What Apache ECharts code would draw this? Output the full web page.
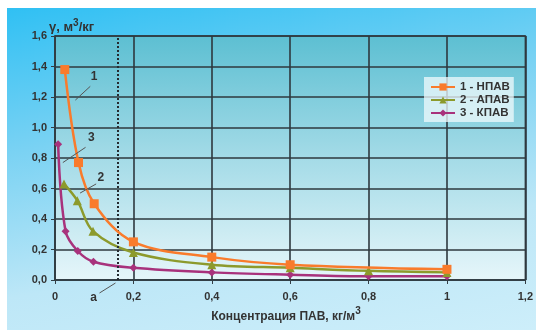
<!DOCTYPE html>
<html><head><meta charset="utf-8">
<script src="https://cdn.jsdelivr.net/npm/echarts@6/dist/echarts.min.js"></script>
<style>
html,body{margin:0;padding:0;background:#fff;}
#bg{position:absolute;left:7px;top:8px;width:529px;height:322px;
background:linear-gradient(170deg,#30c0f3 0%,#7ad2f3 35%,#bde7f7 70%,#cdeefa 100%);}
#c{position:absolute;left:0;top:0;width:536px;height:330px;}
</style></head>
<body><div id="bg"></div><div id="c"></div>
<script>
const seriesNames = ['1 - НПАВ', '2 - АПАВ', '3 - КПАВ'];
const x1 = [0.025, 0.06, 0.1, 0.2, 0.4, 0.6, 1.0];
const y1 = [1.38, 0.77, 0.50, 0.25, 0.15, 0.10, 0.07];
const x2 = [0.023, 0.057, 0.097, 0.2, 0.4, 0.6, 0.8, 1.0];
const y2 = [0.63, 0.52, 0.32, 0.18, 0.10, 0.08, 0.06, 0.05];
const x3 = [0.008, 0.027, 0.058, 0.098, 0.2, 0.4, 0.6, 0.8, 1.0];
const y3 = [0.89, 0.32, 0.19, 0.12, 0.08, 0.05, 0.035, 0.025, 0.025];
const xTicks = [0, 0.2, 0.4, 0.6, 0.8, 1.0, 1.2];
const yTicks = [0, 0.2, 0.4, 0.6, 0.8, 1.0, 1.2, 1.4, 1.6];
const markerX = 0.162;
// annotation labels: [text, labelX, labelY, lineFromX, lineFromY, lineToX, lineToY]
const annotations = [
  ['1', 0.10, 1.33, 0.052, 1.18, 0.09, 1.27],
  ['3', 0.093, 0.93, 0.02, 0.77, 0.078, 0.87],
  ['2', 0.117, 0.67, 0.064, 0.57, 0.105, 0.63]
];

const colors = ['#f97b2c', '#8c9a2c', '#a8327c'];
const symbols = ['rect', 'triangle', 'diamond'];
const sizes = [9, 9, 8];
const font = 'Liberation Sans, Arial, sans-serif';

function pairs(xs, ys){ return xs.map((x,i)=>[x, ys[i]]); }
const dataSets = [pairs(x1,y1), pairs(x2,y2), pairs(x3,y3)];

const chart = echarts.init(document.getElementById('c'), null, {renderer:'canvas'});
const series = dataSets.map((d,i)=>({
  name: seriesNames[i], type:'line', data:d, smooth:0.35,
  symbol: symbols[i], symbolSize: sizes[i],
  lineStyle:{color:colors[i], width:2.5},
  itemStyle:{color:colors[i]},
  z: 5 - i
}));
series[0].markLine = {
  silent:true, symbol:'none', label:{show:false},
  lineStyle:{color:'#252b30', type:[2,2], width:2},
  data:[{xAxis: markerX}]
};

chart.setOption({
  animation:false,
  backgroundColor:'transparent',
  grid:{left:55, right:9, top:36, bottom:50, show:true,
    borderColor:'#323e45', borderWidth:1.5,
    backgroundColor: new echarts.graphic.LinearGradient(0,0,0,1,[
      {offset:0, color:'#5cbfd2'},{offset:0.5,color:'#a4dbe7'},{offset:1,color:'#e6f6fa'}])},
  legend:{
    data: seriesNames, orient:'vertical', left:424, top:77,
    itemWidth:24, itemHeight:9, itemGap:1, padding:[4,4,3,6],
    backgroundColor:'rgba(240,250,252,0.75)',
    textStyle:{fontFamily:font, fontWeight:'bold', fontSize:11.5, color:'#333'}
  },
  xAxis:{
    type:'value', min:0, max:1.2, interval:0.2,
    axisLine:{lineStyle:{color:'#323e45', width:1.5}},
    axisTick:{show:true, length:4, lineStyle:{color:'#323e45'}},
    splitLine:{lineStyle:{color:'#2e383e', width:1.6}},
    axisLabel:{margin:11, fontFamily:font, fontWeight:'bold', fontSize:11, color:'#333',
      formatter:v=>{const t=xTicks.find(x=>Math.abs(x-v)<1e-6); return t===undefined?'':String(+t.toFixed(1)).replace('.',',');}}
  },
  yAxis:{
    type:'value', min:0, max:1.6, interval:0.2,
    axisLine:{show:true, lineStyle:{color:'#323e45', width:1.5}},
    axisTick:{show:true, length:4, lineStyle:{color:'#323e45'}},
    splitLine:{lineStyle:{color:'#2e383e', width:1.6}},
    axisLabel:{margin:8, fontFamily:font, fontWeight:'bold', fontSize:11, color:'#333',
      formatter:v=>{const t=yTicks.find(x=>Math.abs(x-v)<1e-6); return t===undefined?'':t.toFixed(1).replace('.',',');}}
  },
  series: series
});

function px(x,y){ return chart.convertToPixel({gridIndex:0}, [x,y]); }
const g = [];
annotations.forEach(a=>{
  const p = px(a[1],a[2]), f = px(a[3],a[4]), t = px(a[5],a[6]);
  g.push({type:'text', x:p[0], y:p[1], style:{text:a[0], fill:'#333', font:'bold 12px '+font, textAlign:'center', textVerticalAlign:'middle'}, z:10});
  g.push({type:'line', shape:{x1:f[0],y1:f[1],x2:t[0],y2:t[1]}, style:{stroke:'#555', lineWidth:1}, z:10});
});
const base = px(markerX, 0);
g.push({type:'text', x:base[0]-25, y:base[1]+18, style:{text:'a', fill:'#333', font:'bold 12px '+font, textAlign:'center', textVerticalAlign:'middle'}, z:10});
g.push({type:'line', shape:{x1:base[0]-19, y1:base[1]+13, x2:base[0]-3, y2:base[1]+3}, style:{stroke:'#555', lineWidth:1}, z:10});
g.push({type:'text', x:49, y:36, style:{
  rich:{b:{font:'bold 13px '+font, fill:'#333'}, s:{font:'bold 10px '+font, fill:'#333', padding:[0,0,8,0]}},
  text:'{b|γ, м}{s|3}{b|/кг}', textVerticalAlign:'bottom'}, z:10});
g.push({type:'text', x:286, y:327, style:{
  rich:{b:{font:'bold 12px '+font, fill:'#333'}, s:{font:'bold 10px '+font, fill:'#333', padding:[0,0,11,0]}},
  text:'{b|Концентрация ПАВ, кг/м}{s|3}', textAlign:'center', textVerticalAlign:'bottom'}, z:10});
chart.setOption({graphic:g});
</script></body></html>
